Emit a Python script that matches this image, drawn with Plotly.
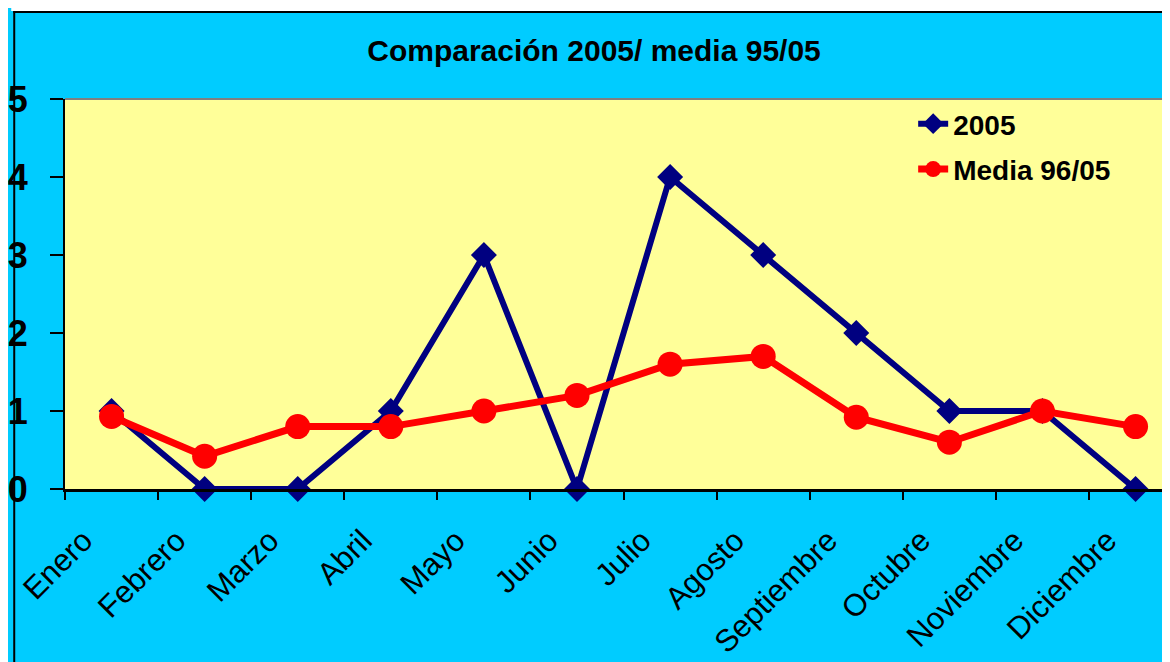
import plotly.graph_objects as go

meses = ['Enero', 'Febrero', 'Marzo', 'Abril', 'Mayo', 'Junio', 'Julio',
         'Agosto', 'Septiembre', 'Octubre', 'Noviembre', 'Diciembre']
serie_2005 = [1, 0, 0, 1, 3, 0, 4, 3, 2, 1, 1, 0]
media_96_05 = [0.93, 0.42, 0.8, 0.8, 1.0, 1.2, 1.6, 1.7, 0.92, 0.6, 1.0, 0.8]

# page body adds 8px margin, coordinates below are figure pixels
W, H = 1162, 662
L, T, B = 52, 91, 181
pw = W - L
ph = H - T - B

def px(x):
    return (x - L) / pw

def py(y):
    return (H - B - y) / ph

fig = go.Figure()

fig.add_trace(go.Scatter(x=meses, y=serie_2005, name='<b>2005</b>', mode='lines+markers',
                         legendgroup='a',
                         line=dict(color='#000080', width=6),
                         marker=dict(symbol='diamond', size=20, color='#000080'),
                         cliponaxis=False))
fig.add_trace(go.Scatter(x=meses, y=media_96_05, name='<b>Media 96/05</b>', mode='lines+markers',
                         legendgroup='b',
                         line=dict(color='#FF0000', width=7),
                         marker=dict(symbol='circle', size=25, color='#FF0000'),
                         cliponaxis=False))

# white strip + black frame like the original image
shapes = [
    dict(type='rect', xref='paper', yref='paper', x0=px(-2), x1=px(W + 5), y0=py(-2), y1=py(3),
         fillcolor='white', line=dict(width=0), layer='above'),
    dict(type='line', xref='paper', yref='paper', x0=px(0), x1=px(W + 5), y0=py(4), y1=py(4),
         line=dict(color='black', width=2), layer='above'),
    dict(type='line', xref='paper', yref='paper', x0=px(1), x1=px(1), y0=py(3), y1=py(H + 5),
         line=dict(color='black', width=2), layer='above'),
    dict(type='line', xref='paper', yref='paper', x0=0, x1=1, y0=1, y1=1,
         line=dict(color='#808080', width=2), layer='above'),
]

fig.update_layout(
    width=W, height=H,
    margin=dict(l=L, r=0, t=T, b=B),
    paper_bgcolor='#00CCFF',
    plot_bgcolor='#FFFF99',
    shapes=shapes,
    title=dict(text='<b>Comparación 2005/ media 95/05</b>', x=586 / W, xanchor='center',
               y=1 - 42 / H, yanchor='middle',
               font=dict(family='Liberation Sans', size=30, color='black')),
    showlegend=True,
    legend=dict(x=px(904), y=py(91), xanchor='left', yanchor='top',
                bgcolor='rgba(0,0,0,0)', borderwidth=0, tracegroupgap=6,
                font=dict(family='Liberation Sans', size=28, color='black'),
                itemsizing='trace'),
    xaxis=dict(range=[-0.5, 11.37], showgrid=False, zeroline=False,
               showline=True, linecolor='black', linewidth=3,
               ticks='outside', tickson='boundaries', ticklen=8, tickwidth=2, tickcolor='black',
               tickangle=-45, ticklabelstandoff=18, ticklabelshift=-28,
               tickfont=dict(family='Liberation Sans', size=31, color='black')),
    yaxis=dict(range=[0, 5], dtick=1, showgrid=False, zeroline=False,
               showline=True, linecolor='black', linewidth=2,
               ticks='outside', ticklen=13, tickwidth=2, tickcolor='black',
               ticklabelstandoff=15,
               tickfont=dict(family='Liberation Sans', size=36, color='black', weight='bold')),
)

fig.write_html("out.html",
               post_script="document.documentElement.style.overflow='hidden';"
                           "document.body.style.overflow='hidden';")
